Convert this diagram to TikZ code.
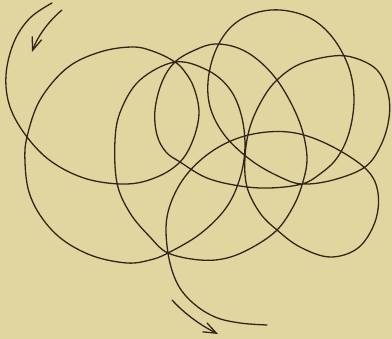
\documentclass[tikz,border=0pt]{standalone}
\usetikzlibrary{arrows.meta}
\definecolor{paper}{RGB}{225,213,160}
\definecolor{ink}{RGB}{50,38,26}

\begin{document}
\begin{tikzpicture}[x=1pt,y=-1pt,
  orbit/.style={draw=ink, line width=1.3pt, line cap=round, line join=round},
  dir/.style={orbit, -{Straight Barb[length=13pt,width=10pt]}}]
\fill[paper] (0,0) rectangle (392,339);
\useasboundingbox (0,0) rectangle (392,339);
% the looped track, start at top left
\draw[orbit] plot[smooth, tension=0.6] coordinates {
  (52,3) (30,18) (14,42) (6,75) (10,107) (27,137) (52,162) (87,179) (127,184)
  (157,177) (180,162) (193,140) (199,113) (194,88) (185,72) (175,62)
  (155,52) (133,47) (100,52) (67,68) (40,100) (27,137) (25,162) (29,192)
  (42,218) (63,240) (93,256) (127,263) (150,260) (168,253)
  (200,234) (226,208) (240,178) (245,146) (241,114) (229,88) (207,70) (175,62)
  (140,80) (121,110) (115,140) (117,183) (130,213) (150,237) (168,253)
  (200,260) (227,258) (253,247) (277,230) (293,207) (302,185) (307,160)
  (303,133) (293,107) (277,80) (258,60) (238,48) (215,44) (195,50) (175,62)
  (162,82) (155,110) (157,135) (166,152) (180,162) (207,178) (240,186)
  (270,188) (302,184)
  (320,174) (337,158) (349,133) (354,100) (349,68) (333,38) (310,18) (280,10)
  (252,14) (230,28) (215,52) (208,82) (211,110) (226,137) (252,161) (280,177)
  (302,184)
  (333,180) (365,167) (381,145) (389,118) (388,93) (377,70) (355,58) (333,56)
  (300,64) (277,80) (262,100) (250,127) (245,157) (247,187) (260,213) (277,230)
  (300,247) (330,257) (358,248) (375,222) (378,193) (367,170) (335,148)
  (300,134) (267,132) (233,140) (203,158) (180,184) (167,217) (168,253)
  (177,283) (193,303) (215,317) (240,323) (267,325)};
% direction marks
\coordinate (in1) at (62,10);
\coordinate (in2) at (32,52);
\coordinate (out1) at (172,300);
\coordinate (out2) at (218,334);
\draw[dir] (in1) .. controls (50,20) and (38,35) .. (in2);
\draw[dir] (out1) .. controls (183,312) and (198,324) .. (out2);
\end{tikzpicture}
\end{document}
